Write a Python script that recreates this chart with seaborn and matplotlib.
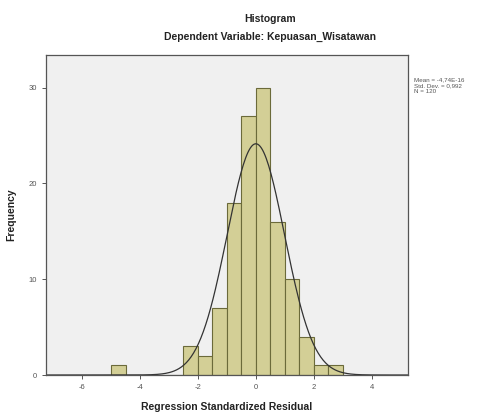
import matplotlib
matplotlib.use("Agg")
import matplotlib.pyplot as plt
import numpy as np
import pandas as pd
import seaborn as sns

# Histogram bins (width 0.5)
bin_edges = [-5.0, -4.5, -4.0, -3.5, -3.0, -2.5, -2.0, -1.5, -1.0, -0.5,
             0.0, 0.5, 1.0, 1.5, 2.0, 2.5, 3.0]
counts = [1, 0, 0, 0, 0, 3, 2, 7, 18, 27, 30, 16, 10, 4, 1, 1]

# Summary stats from the legend
mean_val = -4.74e-16
std_val = 0.992
n_obs = 120
stats_text = "Mean = -4,74E-16\nStd. Dev. = 0,992\nN = 120"

x_ticks = [-6, -4, -2, 0, 2, 4]
y_ticks = [0, 10, 20, 30]

sns.set_style("white")
plt.rcParams["font.family"] = ["Liberation Sans", "DejaVu Sans"]
plt.rcParams["axes.unicode_minus"] = False

centers = [(a + b) / 2 for a, b in zip(bin_edges[:-1], bin_edges[1:])]
df = pd.DataFrame({"resid": centers, "count": counts})

fig = plt.figure(figsize=(4.89, 4.13), dpi=100)
ax = fig.add_axes([0.094, 0.092, 0.740, 0.775])
ax.set_facecolor("#f0f0f0")

sns.histplot(data=df, x="resid", weights="count", bins=bin_edges,
             color="#d3cf96", edgecolor="#6b6a3a", linewidth=0.8,
             alpha=1, ax=ax)

# fitted normal curve scaled to counts
xs = np.linspace(-7.25, 5.25, 300)
bw = bin_edges[1] - bin_edges[0]
ys = n_obs * bw / (std_val * np.sqrt(2 * np.pi)) * np.exp(-0.5 * ((xs - mean_val) / std_val) ** 2)
sns.lineplot(x=xs, y=ys, color="#333333", linewidth=0.9, ax=ax)

ax.set_xlim(-7.25, 5.25)
ax.set_ylim(0, 33.4)
ax.set_xticks(x_ticks)
ax.set_yticks(y_ticks)
ax.tick_params(direction="out", length=3, width=0.7, labelsize=5.5,
               colors="#555555", bottom=True, left=True)
for s in ax.spines.values():
    s.set_color("#555555")
    s.set_linewidth(0.9)

ax.set_xlabel("Regression Standardized Residual", fontsize=7.5,
              fontweight="bold", color="#222222", labelpad=8)
ax.set_ylabel("Frequency", fontsize=7.5, fontweight="bold",
              color="#222222", labelpad=9)

fig.text(0.553, 0.955, "Histogram", ha="center", va="center",
         fontsize=7.5, fontweight="bold", color="#222222")
fig.text(0.553, 0.91, "Dependent Variable: Kepuasan_Wisatawan", ha="center",
         va="center", fontsize=7.5, fontweight="bold", color="#222222")
fig.text(0.847, 0.812, stats_text, ha="left", va="top", fontsize=4.5,
         color="#555555", linespacing=1.15)

fig.savefig("out.png", dpi=100, facecolor="white")
